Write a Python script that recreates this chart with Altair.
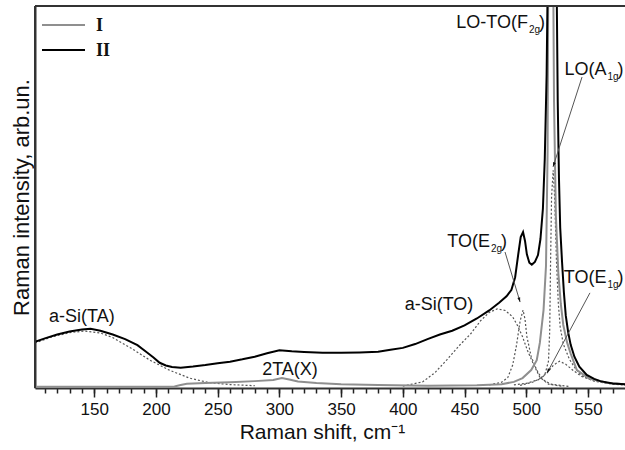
import math
import altair as alt
import pandas as pd

W, H = 590, 382
X_DOM = [102, 580]
Y_DOM = [0, 100]

# ---- spectrum II (black) ----
ii_x = [102, 110, 120, 130, 140, 147, 155, 165, 175, 185, 192, 198, 203, 208, 213, 220,
        230, 240, 250, 260, 270, 280, 290, 300, 310, 320, 335, 350, 365, 380, 390, 400,
        410, 420, 430, 440, 450, 460, 470, 478, 484, 488, 491, 493.5, 495.5, 497.4, 499,
        500.5, 502.5, 504.5, 507, 509.5, 511.5, 513.5, 515, 516.5, 517.5, 519, 521, 523,
        524.5, 525.5, 526.5, 527.5, 529, 530.5, 532, 534, 536, 539, 543, 549, 555, 560,
        570, 580]
ii_y = [12.1, 13.0, 14.0, 14.8, 15.3, 15.5, 15.0, 14.0, 12.8, 11.2, 9.5, 8.0, 6.6, 5.9, 5.5, 5.3,
        5.6, 6.0, 6.5, 6.9, 7.5, 8.2, 9.1, 9.9, 9.6, 9.4, 9.2, 9.2, 9.3, 9.5, 10.0, 10.5,
        11.5, 12.8, 14.0, 15.0, 16.4, 18.2, 20.3, 22.3, 24.0, 25.7, 29.0, 35.0, 39.5, 40.8, 38.5,
        35.0, 32.8, 32.3, 33.0, 34.8, 39.0, 47.0, 60.0, 82.0, 110.0, 200.0, 300.0, 200.0,
        110.0, 75.0, 55.0, 42.0, 33.0, 25.0, 19.0, 14.5, 11.3, 8.2, 5.6, 3.4, 2.4, 1.8,
        1.2, 1.0]

# ---- spectrum I (grey) ----
i_x = [102, 150, 200, 215, 220, 225, 240, 260, 280, 295, 302, 308, 315, 330, 350, 380, 420,
       460, 480, 490, 497, 504, 508.5, 511, 514, 516, 517.3, 518.3, 519.5, 521, 522.5, 524,
       526, 528, 530, 533, 536, 541, 551, 565, 580]
i_y = [0.3, 0.3, 0.3, 0.4, 0.8, 1.1, 1.3, 1.5, 1.8, 2.1, 2.6, 2.2, 1.7, 1.3, 1.0, 0.8, 0.6,
       0.7, 1.0, 1.6, 2.6, 4.7, 7.3, 11.8, 20.4, 32.0, 62.0, 150.0, 300.0, 150.0, 75.0, 45.0,
       30.0, 22.0, 16.5, 12.0, 9.0, 4.7, 2.5, 1.4, 1.0]

# ---- fitted components (dashed) ----
ta_x = [102, 115, 130, 142, 155, 165, 180, 195, 210, 227, 243, 260, 280]
ta_y = [11.8, 13.3, 14.5, 14.9, 14.4, 13.2, 10.4, 7.3, 4.8, 2.6, 1.4, 0.9, 0.6]

to_x = [400, 416, 426, 436, 446, 455, 463, 470, 476.5, 483, 489, 493, 497, 501, 505.5, 511, 518, 530]
to_y = [0.5, 1.6, 4.0, 7.5, 11.2, 14.2, 17.6, 19.8, 20.7, 20.3, 18.6, 16.3, 13.4, 9.8, 6.5, 2.8, 1.0, 0.4]

e2g_x = [470, 480, 485, 489, 492, 495, 497.4, 499, 500.5, 504, 508.5, 513, 520, 535]
e2g_y = [0.8, 1.5, 2.7, 6.0, 11.0, 17.5, 20.4, 18.0, 13.5, 8.2, 4.7, 2.3, 1.0, 0.4]

e1g_x = [490, 500, 510, 517, 522, 527, 532, 538, 545, 555, 567, 580]
e1g_y = [0.8, 1.2, 2.2, 4.0, 6.0, 7.0, 6.2, 4.6, 3.0, 1.9, 1.2, 0.8]

a1g_x = [495, 505, 512, 515, 518, 519, 519.7, 520.5, 521.8, 523, 524.5, 526, 527.5, 530, 535,
         540, 545, 555, 570, 580]
a1g_y = [0.7, 1.5, 2.6, 3.4, 7.0, 15.0, 33.0, 50.0, 57.0, 50.0, 33.0, 22.0, 16.0, 11.5, 7.5,
         5.0, 3.2, 1.8, 1.0, 0.8]

# ---- annotations ----
plain_labels = ["a-Si(TA)", "2TA(X)", "a-Si(TO)"]
plain_x = [140, 308.6, 429.3]
plain_y = [17.3, 3.4, 20.4]

sub_main = ["TO(E", "TO(E", "LO-TO(F", "LO(A"]
sub_text = ["2g", "1g", "2g", "1g"]
sub_x = [470.6, 565.0, 501.4, 565.0]
sub_y = [36.9, 27.5, 94.2, 81.9]

arrow_x1 = [482.8, 551.6, 545.2]
arrow_y1 = [35.6, 24.9, 81.4]
arrow_x2 = [495.0, 516.8, 521.7]
arrow_y2 = [22.5, 3.9, 57.9]

legend_labels = ["I", "II"]
series_colors = ["#8f8f8f", "#000000"]

# ---------------------------------------------------------------
def frame(xs, ys, name):
    assert len(xs) == len(ys), name
    return pd.DataFrame({"x": xs, "y": ys, "series": name})

spectra = pd.concat([frame(i_x, i_y, "I"), frame(ii_x, ii_y, "II")], ignore_index=True)
comps = pd.concat([frame(ta_x, ta_y, "TA"), frame(to_x, to_y, "TO"),
                   frame(e2g_x, e2g_y, "E2g"), frame(e1g_x, e1g_y, "E1g"),
                   frame(a1g_x, a1g_y, "A1g")], ignore_index=True)

xs = alt.Scale(domain=X_DOM, nice=False, zero=False)
ys = alt.Scale(domain=Y_DOM, nice=False, zero=False)
FONT = "Liberation Sans"

minor_axis = alt.Axis(values=list(range(110, 580, 10)), tickSize=5, labels=False, domain=False,
                      title=None, grid=False, orient="bottom", tickColor="#222", tickWidth=1.5)
major_axis = alt.Axis(values=list(range(150, 580, 50)), tickSize=9, grid=False, orient="bottom",
                      labelFontSize=17, labelFont=FONT, labelColor="#111", labelPadding=4,
                      tickColor="#222", tickWidth=1.5, domainColor="#333", domainWidth=2,
                      title="Raman shift, cm⁻¹", titleFont=FONT, titleFontSize=21,
                      titleFontWeight="normal", titleColor="#111", titleY=50, titleX=287,
                      titleAlign="center", titleBaseline="alphabetic")
y_axis = alt.Axis(ticks=False, labels=False, grid=False, domainColor="#333", domainWidth=2,
                  title="Raman intensity, arb.un.", titleFont=FONT, titleFontSize=22,
                  titleFontWeight="normal", titleColor="#111", titleX=-7,
                  titleBaseline="alphabetic")


def Y(field):
    return alt.Y(field, scale=ys, axis=y_axis)


comp_layer = alt.Chart(comps).mark_line(clip=True, color="#555", strokeDash=[2, 2],
                                         strokeWidth=1.2).encode(
    x=alt.X("x:Q", scale=xs, axis=minor_axis),
    y=Y("y:Q"),
    detail="series:N",
)

spec_layer = alt.Chart(spectra).mark_line(clip=True, strokeWidth=2).encode(
    x=alt.X("x:Q", scale=xs, axis=major_axis),
    y=Y("y:Q"),
    color=alt.Color("series:N", scale=alt.Scale(domain=legend_labels, range=series_colors),
                    legend=None),
    detail="series:N",
)

plain_df = pd.DataFrame({"x": plain_x, "y": plain_y, "t": plain_labels})
plain_layer = alt.Chart(plain_df).mark_text(font=FONT, fontSize=18, color="#111",
                                            align="center", baseline="alphabetic").encode(
    x=alt.X("x:Q", scale=xs, axis=None), y=Y("y:Q"), text="t:N")

sub_df = pd.DataFrame({"x": sub_x, "y": sub_y, "m": sub_main, "s": sub_text,
                       "p": [")"] * len(sub_main)})
main_layer = alt.Chart(sub_df).mark_text(font=FONT, fontSize=18, color="#111",
                                         align="right", baseline="alphabetic").encode(
    x=alt.X("x:Q", scale=xs, axis=None), y=Y("y:Q"), text="m:N")
subs_layer = alt.Chart(sub_df).mark_text(font=FONT, fontSize=10, color="#111", dx=1, dy=5,
                                         align="left", baseline="alphabetic").encode(
    x=alt.X("x:Q", scale=xs, axis=None), y=Y("y:Q"), text="s:N")
paren_layer = alt.Chart(sub_df).mark_text(font=FONT, fontSize=18, color="#111", dx=11,
                                          align="left", baseline="alphabetic").encode(
    x=alt.X("x:Q", scale=xs, axis=None), y=Y("y:Q"), text="p:N")

# arrows
kx = W / (X_DOM[1] - X_DOM[0])
ky = H / (Y_DOM[1] - Y_DOM[0])
angles = []
for a, b, c, d in zip(arrow_x1, arrow_y1, arrow_x2, arrow_y2):
    dxp = (c - a) * kx
    dyp = -(d - b) * ky
    angles.append(math.degrees(math.atan2(dxp, -dyp)) % 360)
arr_df = pd.DataFrame({"x1": arrow_x1, "y1": arrow_y1, "x2": arrow_x2, "y2": arrow_y2,
                       "ang": angles})
arrow_lines = alt.Chart(arr_df).mark_rule(color="#555", strokeWidth=1).encode(
    x=alt.X("x1:Q", scale=xs, axis=None), y=Y("y1:Q"),
    x2="x2:Q", y2="y2:Q")
arrow_heads = alt.Chart(arr_df).mark_point(shape="M0,0L-0.35,1.1L0.35,1.1Z", filled=True,
                                           size=70, color="#111", opacity=1).encode(
    x=alt.X("x2:Q", scale=xs, axis=None), y=Y("y2:Q"),
    angle=alt.Angle("ang:Q", scale=None))

# frame: top and left lines
one = pd.DataFrame({"a": [0]})
top_line = alt.Chart(one).mark_rule(color="#333", strokeWidth=2).encode(
    x=alt.value(0), x2=alt.value(W), y=alt.value(0))
left_line = alt.Chart(one).mark_rule(color="#333", strokeWidth=2).encode(
    x=alt.value(0), y=alt.value(0), y2=alt.value(H))

# legend
leg_layers = []
for i, (lab, col) in enumerate(zip(legend_labels, series_colors)):
    yy = 19 + 25 * i
    leg_layers.append(alt.Chart(one).mark_rule(color=col, strokeWidth=2).encode(
        x=alt.value(7), x2=alt.value(50), y=alt.value(yy)))
    leg_layers.append(alt.Chart(one).mark_text(text=lab, font="Liberation Serif", fontSize=18,
                                               fontWeight="bold", color="#111", align="left",
                                               baseline="middle").encode(
        x=alt.value(61), y=alt.value(yy + 1)))

chart = alt.layer(comp_layer, spec_layer, plain_layer, main_layer, subs_layer, paren_layer,
                  arrow_lines, arrow_heads, top_line, left_line, *leg_layers).resolve_axis(
    x="independent").properties(
    width=W, height=H, autosize=alt.AutoSizeParams(type="none"),
    padding={"left": 35, "top": 6, "right": 0, "bottom": 62},
    background="white",
).configure_view(stroke=None)

chart.save("out.html", embed_options={"renderer": "svg", "actions": False})
